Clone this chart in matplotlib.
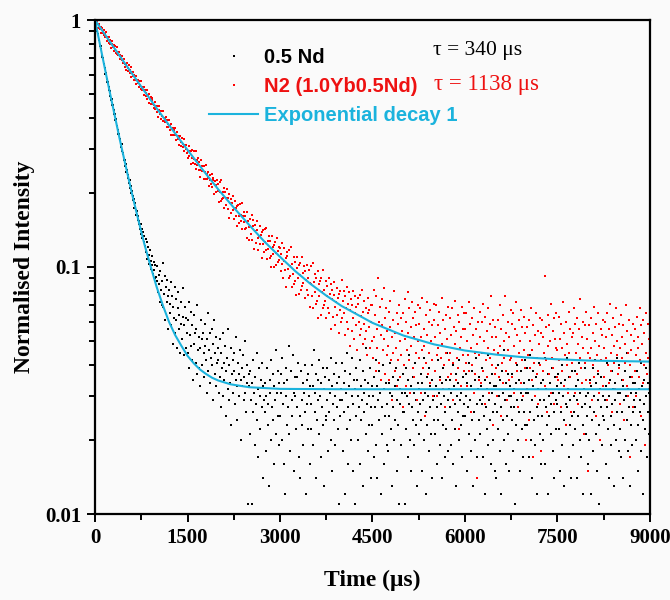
import numpy as np
import matplotlib
matplotlib.use("Agg")
import matplotlib.pyplot as plt
from matplotlib.ticker import MultipleLocator, NullFormatter
from matplotlib.lines import Line2D

# Sampled decay data, intensity x 1e4, one point every DT microseconds
DT = 10
SCALE = 1e-4

black_nd = [
    # 0 - 490
    10000, 9650, 9520, 9080, 8990, 8740, 8310, 8290, 7880, 7850, 7610, 7240, 7090, 6990, 6640, 6620, 6410, 6050, 6110, 5780, 5620, 5630, 5330, 5210, 5180,
    4920, 4750, 4790, 4510, 4530, 4330, 4150, 4180, 3940, 3990, 3710, 3740, 3590, 3450, 3460, 3290, 3280, 3070, 3150, 2960, 2890, 2880, 2700, 2720, 2570,
    # 500 - 990
    2610, 2430, 2470, 2300, 2360, 2180, 2250, 2080, 2130, 1990, 2040, 1870, 1940, 1880, 1740, 1810, 1700, 1620, 1690, 1550, 1610, 1490, 1540, 1420, 1500,
    1360, 1430, 1310, 1390, 1260, 1340, 1220, 1300, 1150, 1260, 1080, 1210, 1120, 1030, 1170, 1060, 980, 1110, 1020, 940, 1050, 970, 900, 1020, 910,
    # 1000 - 1490
    880, 1010, 790, 930, 850, 720, 960, 810, 700, 880, 1040, 690, 780, 920, 610, 830, 720, 890, 560, 760, 810, 650, 710, 580, 870,
    760, 490, 690, 620, 830, 540, 740, 610, 470, 680, 790, 560, 640, 450, 720, 590, 510, 820, 630, 440, 580, 690, 470, 620, 540,
    # 1500 - 1990
    610, 450, 720, 390, 530, 660, 480, 420, 580, 350, 490, 640, 540, 410, 560, 370, 700, 460, 520, 390, 330, 470, 610, 510, 400,
    540, 360, 450, 590, 480, 420, 310, 510, 650, 380, 460, 540, 340, 430, 560, 400, 290, 490, 610, 370, 450, 520, 330, 410, 470,
    # 2000 - 2490
    420, 310, 510, 360, 270, 450, 390, 540, 300, 410, 350, 480, 250, 380, 430, 320, 560, 290, 400, 340, 470, 230, 370, 420, 310,
    380, 450, 280, 350, 520, 330, 240, 410, 370, 300, 460, 350, 200, 390, 330, 440, 290, 360, 500, 310, 260, 400, 340, 110, 370,
    # 2500 - 8990, flat tail
    330, 210, 380, 290, 110, 340, 260, 420, 310, 190, 360, 280, 450, 240, 320, 170, 390, 300, 220, 350, 270, 410, 140, 330, 290,
    260, 340, 180, 300, 390, 230, 280, 130, 350, 310, 200, 420, 270, 240, 370, 160, 330, 290, 460, 210, 310, 250, 380, 190, 340,
    250, 370, 310, 200, 430, 280, 160, 340, 120, 300, 390, 230, 350, 270, 480, 210, 320, 180, 380, 290, 250, 440, 310, 150, 360,
    300, 220, 360, 270, 410, 170, 320, 250, 140, 380, 290, 230, 340, 190, 310, 400, 260, 120, 350, 280, 220, 370, 300, 160, 330,
    280, 220, 400, 330, 190, 460, 260, 310, 140, 370, 240, 290, 350, 210, 420, 300, 170, 340, 270, 390, 230, 130, 320, 360, 250,
    240, 390, 290, 180, 350, 260, 310, 430, 200, 330, 150, 280, 370, 240, 300, 190, 410, 270, 340, 220, 110, 360, 290, 250, 320,
    410, 290, 180, 340, 260, 120, 380, 310, 220, 450, 270, 160, 330, 240, 370, 200, 300, 430, 150, 280, 350, 110, 320, 250, 390,
    350, 200, 300, 270, 160, 420, 330, 240, 290, 380, 130, 310, 260, 350, 210, 470, 280, 180, 340, 230, 300, 390, 140, 270, 330,
    230, 300, 170, 360, 270, 420, 190, 330, 140, 290, 380, 240, 310, 120, 350, 210, 270, 400, 160, 320, 250, 100, 340, 280, 190,
    180, 340, 250, 310, 410, 220, 130, 300, 360, 270, 200, 330, 240, 390, 150, 290, 350, 230, 110, 320, 280, 440, 190, 310, 260,
    370, 260, 310, 110, 390, 220, 300, 170, 350, 280, 440, 200, 330, 150, 270, 360, 240, 310, 190, 410, 290, 230, 130, 340, 260,
    320, 210, 280, 370, 240, 150, 340, 290, 430, 200, 310, 260, 120, 360, 230, 300, 180, 390, 270, 330, 210, 140, 350, 290, 240,
    300, 380, 210, 330, 160, 270, 420, 240, 310, 190, 360, 280, 140, 340, 230, 390, 300, 170, 260, 350, 220, 450, 290, 180, 320,
    350, 270, 190, 310, 240, 400, 160, 330, 280, 220, 370, 130, 300, 260, 340, 200, 420, 290, 230, 310, 170, 360, 250, 280, 380,
    250, 370, 300, 150, 340, 270, 210, 410, 290, 180, 330, 240, 380, 130, 310, 260, 350, 200, 430, 280, 170, 320, 240, 360, 290,
    210, 330, 280, 390, 170, 300, 250, 120, 350, 270, 320, 220, 440, 190, 290, 340, 240, 160, 310, 370, 260, 200, 330, 280, 150,
    140, 330, 260, 400, 220, 300, 180, 350, 270, 120, 380, 240, 310, 200, 460, 290, 160, 340, 250, 370, 210, 300, 150, 330, 270,
    300, 240, 370, 180, 320, 270, 110, 340, 230, 400, 290, 200, 350, 260, 150, 310, 380, 220, 290, 170, 340, 260, 420, 230, 310,
    390, 230, 310, 170, 350, 260, 440, 200, 290, 140, 330, 380, 240, 300, 190, 360, 270, 120, 320, 250, 410, 210, 290, 160, 340,
    250, 350, 200, 290, 430, 160, 320, 270, 230, 370, 120, 300, 250, 340, 210, 280, 390, 180, 310, 260, 140, 360, 290, 220, 330,
    280, 370, 220, 310, 150, 340, 260, 400, 190, 300, 240, 130, 350, 280, 210, 430, 270, 320, 170, 360, 230, 290, 140, 380, 250,
    190, 300, 260, 380, 220, 330, 140, 290, 350, 250, 410, 200, 310, 170, 270, 340, 230, 120, 320, 280, 390, 210, 300, 250, 160,
    310, 200, 350, 270, 120, 330, 240, 390, 180, 300, 260, 420, 210, 340, 150, 290, 370, 230, 110, 320, 270, 360, 190, 300, 250,
    360, 240, 290, 160, 330, 270, 410, 220, 300, 140, 350, 250, 190, 380, 280, 320, 230, 130, 340, 290, 200, 430, 260, 310, 180,
    400, 220, 310, 170, 350, 260, 140, 330, 290, 380, 200, 300, 240, 450, 180, 320, 270, 130, 360, 230, 310, 190, 340, 260, 290,
    270, 340, 200, 310, 380, 230, 150, 320, 260, 290, 410, 180, 330, 240, 120, 350, 280, 220, 300, 390, 170, 260, 340, 210, 310,
    # 9000
    230,
]

red_n2 = [
    # 0 - 490
    10000, 9680, 9920, 9950, 9590, 9280, 9510, 9660, 9200, 9340, 8820, 9270, 9260, 8890, 8680, 9090, 8740, 8530, 8940, 8250, 8520, 8310, 8510, 8040, 8310,
    7980, 7720, 8240, 7970, 7790, 7900, 7470, 7830, 7590, 7350, 7770, 7280, 7400, 7220, 7390, 6930, 7210, 7040, 6880, 7150, 6710, 6860, 6920, 6430, 6650,
    # 500 - 990
    6260, 6660, 6670, 6370, 6190, 6570, 6270, 6100, 6480, 5880, 6130, 5960, 6150, 5740, 5990, 5710, 5490, 5960, 5740, 5580, 5700, 5330, 5670, 5460, 5250,
    5640, 5220, 5340, 5190, 5360, 4950, 5220, 5080, 4940, 5200, 4810, 4970, 5030, 4600, 4800, 4860, 4580, 4740, 4840, 4560, 4390, 4540, 4640, 4370, 4470,
    # 1000 - 1490
    4500, 4260, 4060, 4500, 4310, 4170, 4290, 3960, 4270, 4090, 3910, 4270, 3890, 4010, 3880, 4040, 3680, 3930, 3810, 3690, 3930, 3590, 3730, 3790, 3420,
    3610, 3670, 3420, 3570, 3670, 3430, 3270, 3420, 3510, 3290, 3380, 3110, 3370, 3380, 3200, 3090, 3340, 3160, 3060, 3310, 2940, 3110, 3010, 3130, 2890,
    # 1500 - 1990
    2770, 2950, 3090, 2810, 2940, 2610, 2950, 2970, 2750, 2630, 2960, 2740, 2620, 2940, 2490, 2710, 2590, 2760, 2460, 2670, 2470, 2320, 2710, 2560, 2450,
    2560, 2270, 2570, 2420, 2270, 2590, 2280, 2390, 2290, 2430, 2130, 2360, 2260, 2170, 2390, 2100, 2240, 2300, 1970, 2150, 2220, 2010, 2150, 2240, 2040,
    # 2000 - 2490
    2170, 1840, 2200, 2020, 1850, 2250, 1880, 2020, 1900, 2090, 1730, 2010, 1900, 1790, 2060, 1710, 1900, 1980, 1580, 1810, 1890, 1650, 1820, 1940, 1700,
    1560, 1730, 1850, 1610, 1730, 1460, 1760, 1790, 1610, 1510, 1800, 1620, 1530, 1810, 1420, 1610, 1520, 1670, 1420, 1610, 1440, 1310, 1670, 1540, 1450,
    # 2500 - 2990
    1290, 1560, 1460, 1360, 1620, 1290, 1470, 1550, 1180, 1400, 1480, 1250, 1410, 1530, 1310, 1170, 1340, 1460, 1240, 1350, 1090, 1380, 1410, 1240, 1150,
    1430, 1260, 1170, 1440, 1080, 1270, 1180, 1340, 1090, 1280, 1110, 1000, 1330, 1210, 1130, 1230, 1000, 1260, 1140, 1020, 1310, 1050, 1160, 1070, 1210,
    # 3000 - 3490
    1190, 960, 1130, 1250, 1030, 900, 1060, 1190, 970, 1090, 830, 1110, 1150, 980, 900, 1170, 1010, 920, 1200, 830, 1030, 940, 1100, 850, 1050,
    880, 770, 1100, 990, 900, 1020, 780, 1040, 925, 810, 1100, 840, 950, 860, 1010, 750, 960, 885, 810, 1020, 770, 900, 970, 690, 860,
    # 3500 - 3990
    1010, 850, 760, 1040, 680, 870, 790, 940, 710, 900, 730, 620, 960, 850, 760, 880, 640, 900, 790, 680, 970, 700, 810, 730, 880,
    620, 840, 760, 680, 900, 650, 780, 850, 560, 740, 810, 630, 770, 870, 690, 580, 720, 820, 640, 750, 540, 780, 800, 670, 600,
    # 4000 - 4490
    890, 620, 730, 650, 800, 530, 760, 681, 600, 830, 560, 710, 790, 480, 667, 740, 550, 700, 800, 620, 510, 653, 760, 580, 690,
    460, 710, 750, 600, 530, 770, 633, 560, 810, 490, 660, 590, 730, 510, 680, 550, 440, 750, 650, 570, 670, 470, 700, 599, 500,
    # 4500 - 8990, flat tail
    700, 430, 810, 520, 640, 380, 760, 560, 470, 900, 600, 410, 690, 530, 350, 740, 580, 460, 820, 510, 620, 370, 680, 550, 440,
    480, 660, 350, 570, 730, 420, 520, 290, 610, 450, 800, 380, 540, 470, 650, 330, 590, 420, 700, 500, 360, 620, 440, 550, 270,
    650, 400, 740, 510, 330, 600, 460, 790, 540, 420, 680, 310, 570, 480, 720, 390, 620, 520, 360, 660, 450, 580, 290, 700, 500,
    590, 430, 680, 310, 520, 460, 750, 390, 560, 480, 250, 640, 410, 530, 720, 370, 600, 450, 340, 670, 500, 420, 580, 300, 710,
    610, 380, 520, 700, 440, 300, 580, 470, 660, 350, 540, 430, 750, 490, 320, 610, 400, 560, 270, 640, 450, 510, 360, 690, 420,
    450, 620, 370, 530, 680, 410, 290, 570, 490, 730, 350, 550, 430, 640, 390, 220, 600, 470, 520, 330, 690, 440, 560, 380, 650,
    560, 410, 650, 330, 500, 440, 720, 380, 590, 260, 470, 620, 400, 530, 310, 680, 450, 370, 560, 140, 490, 600, 350, 440, 660,
    520, 340, 600, 450, 710, 380, 500, 280, 630, 420, 550, 360, 680, 470, 310, 590, 430, 760, 400, 520, 230, 610, 460, 370, 570,
    390, 520, 300, 610, 450, 360, 700, 480, 250, 560, 410, 640, 340, 500, 430, 760, 380, 540, 290, 600, 460, 350, 520, 420, 670,
    430, 590, 360, 650, 480, 310, 560, 410, 720, 380, 530, 270, 610, 450, 500, 340, 670, 420, 570, 300, 630, 460, 390, 540, 200,
    320, 570, 440, 240, 610, 390, 500, 680, 350, 460, 170, 580, 410, 530, 300, 650, 430, 370, 550, 280, 490, 620, 400, 180, 540,
    610, 380, 520, 450, 920, 330, 570, 420, 260, 640, 480, 370, 580, 500, 310, 710, 430, 550, 390, 620, 280, 510, 470, 650, 360,
    460, 350, 630, 420, 510, 270, 590, 380, 470, 720, 330, 540, 440, 230, 600, 400, 490, 310, 660, 450, 360, 560, 260, 520, 410,
    540, 420, 680, 310, 590, 450, 370, 620, 490, 280, 560, 430, 740, 390, 520, 340, 600, 470, 210, 580, 410, 660, 350, 510, 450,
    150, 580, 430, 340, 620, 470, 290, 540, 400, 690, 360, 500, 250, 590, 440, 380, 650, 310, 480, 200, 560, 420, 530, 330, 610,
    470, 360, 600, 430, 520, 290, 650, 400, 560, 340, 710, 450, 380, 530, 260, 620, 480, 410, 570, 320, 680, 440, 500, 370, 590,
    390, 470, 280, 640, 430, 520, 350, 580, 240, 490, 410, 700, 330, 550, 450, 300, 610, 400, 170, 530, 460, 360, 590, 270, 500,
    380, 560, 440, 300, 630, 470, 520, 360, 680, 420, 250, 580, 490, 340, 610, 400, 540, 190, 650, 450, 370, 590, 430, 510, 320,
    # 9000
    420,
]

# Fitted curves (tau = 340 us and 1138 us)
fit_black_t = [0, 100, 200, 300, 400, 500, 600, 700, 800, 900, 1000, 1100, 1200, 1300,
               1400, 1500, 1600, 1700, 1800, 1900, 2000, 2200, 2500, 3000, 4000, 9000]
fit_black_y = [1.0, 0.753, 0.569, 0.433, 0.330, 0.255, 0.198, 0.156, 0.124, 0.101, 0.083, 0.070,
               0.060, 0.053, 0.048, 0.0437, 0.0408, 0.0385, 0.0369, 0.0356, 0.0347, 0.0335,
               0.0326, 0.0321, 0.0320, 0.0320]
fit_red_t = [0, 250, 500, 750, 1000, 1250, 1500, 1750, 2000, 2250, 2500, 2750, 3000, 3250,
             3500, 3750, 4000, 4500, 5000, 5500, 6000, 6500, 7000, 7500, 8000, 9000]
fit_red_y = [1.0, 0.811, 0.659, 0.537, 0.439, 0.361, 0.298, 0.247, 0.206, 0.174, 0.148, 0.1265,
             0.110, 0.0961, 0.0852, 0.0766, 0.0695, 0.0594, 0.0528, 0.0486, 0.0459, 0.0442,
             0.0430, 0.0423, 0.0418, 0.0414]

labels = ["0.5 Nd", "N2 (1.0Yb0.5Nd)", "Exponential decay 1"]
tau_text = ["\u03c4 = 340 \u03bcs", "\u03c4 = 1138 \u03bcs"]

CYAN = "#1bb3dd"
RED_TXT = "#ee1111"
BG = "#fafafa"
SERIF = "Liberation Serif"
SANS = "Liberation Sans"

fig = plt.figure(figsize=(6.7, 6.0), dpi=100, facecolor=BG)
ax = fig.add_axes([95 / 670, 1 - 514 / 600, 555 / 670, 494 / 600], facecolor=BG)

t_black = np.arange(len(black_nd)) * DT
t_red = np.arange(len(red_n2)) * DT
ax.plot(t_black, np.array(black_nd) * SCALE, ls="none", marker="s", ms=1.9,
        mew=0, color="black")
ax.plot(t_red, np.array(red_n2) * SCALE, ls="none", marker="s", ms=1.9,
        mew=0, color="red")
ax.plot(fit_black_t, fit_black_y, color=CYAN, lw=1.5)
ax.plot(fit_red_t, fit_red_y, color=CYAN, lw=1.5)

ax.set_yscale("log")
ax.set_xlim(0, 9000)
ax.set_ylim(0.01, 1)

ax.set_yticks([0.01, 0.1, 1])
ax.set_yticklabels(["0.01", "0.1", "1"])
ax.yaxis.set_minor_formatter(NullFormatter())
ax.xaxis.set_major_locator(MultipleLocator(1500))
ax.xaxis.set_minor_locator(MultipleLocator(750))

for side in ["left", "bottom", "top", "right"]:
    ax.spines[side].set_linewidth(1.6)
ax.tick_params(which="both", direction="out", width=1.4, top=False, right=False)
ax.tick_params(which="major", length=6, pad=4)
ax.tick_params(which="minor", length=4)
for lab in ax.get_xticklabels() + ax.get_yticklabels():
    lab.set_fontfamily(SERIF)
    lab.set_fontweight("bold")
    lab.set_fontsize(15)

ax.set_xlabel("Time (\u03bcs)", fontfamily=SERIF, fontweight="bold", fontsize=17, labelpad=16)
ax.set_ylabel("Normalised Intensity", fontfamily=SERIF, fontweight="bold", fontsize=17,
              labelpad=7)

handles = [
    Line2D([], [], ls="none", marker="s", ms=2, mew=0, color="black"),
    Line2D([], [], ls="none", marker="s", ms=2, mew=0, color="red"),
    Line2D([], [], color=CYAN, lw=1.5),
]
ax.legend(handles, labels, loc="upper left", bbox_to_anchor=(0.188, 0.964), frameon=False,
          borderpad=0, handlelength=2.4, handletextpad=0.3, labelspacing=0.5,
          labelcolor=["black", RED_TXT, CYAN],
          prop={"family": SANS, "weight": "bold", "size": 14.5})

ax.text(0.609, 0.939, tau_text[0], transform=ax.transAxes, va="center", ha="left",
        fontfamily=SERIF, fontsize=15.5, color="black")
ax.text(0.611, 0.870, tau_text[1], transform=ax.transAxes, va="center", ha="left",
        fontfamily=SERIF, fontsize=16.5, color=RED_TXT)

fig.savefig("out.png", dpi=100, facecolor=BG)
